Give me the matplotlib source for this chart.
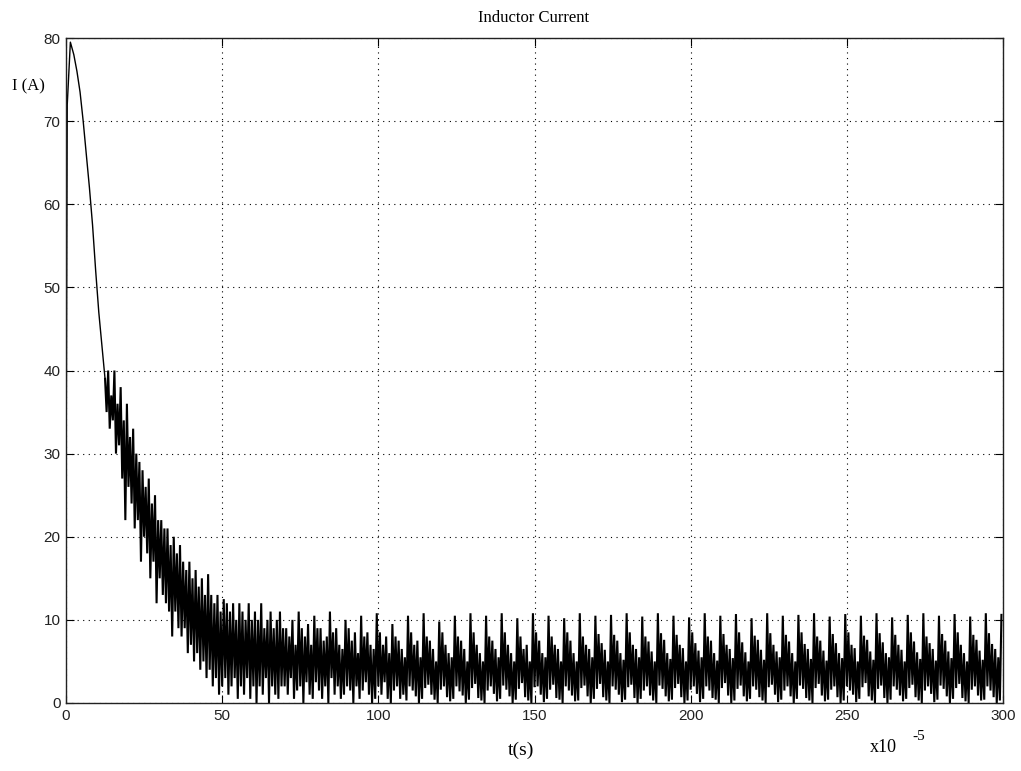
import numpy as np
import matplotlib
matplotlib.use("Agg")
import matplotlib.pyplot as plt

# ---- data (time in units of 1e-5 s, current in A) ----
# start-up transient: single trace
t_head = [0, 0, 0.4, 1.4, 2.5, 3.5, 4.5, 5.5, 6.5, 7.5, 8.5, 9.5, 10.5, 11.5, 12.5]
i_head = [46, 22, 72, 79.5, 78, 76, 73.5, 70, 66, 62, 57.5, 52, 47, 43, 39]

# switching ripple from t = 13 onwards: one trough (at integer t) and one crest (half a unit later)
band_start = 13
i_hi = [
    40, 37, 40, 36, 38, 34, 36, 32, 33, 30,
    29, 28, 26, 27, 24, 25, 22, 22, 21, 21,
    19, 20, 18, 19, 17, 16, 17, 15, 16, 14,
    15, 13, 15.5, 13, 12, 13, 11, 12.5, 12, 11,
    12, 10, 12, 11, 10, 12, 10, 11, 10, 12,
    9, 10, 11, 9, 10, 11, 9,
    9, 8, 10, 7, 11, 9, 8, 9.5, 7, 10.5,
    9, 9, 7.5, 8, 11, 8.5, 9, 7, 6.5, 10,
    9, 7.5, 8.5, 6, 10.5, 8, 8.5, 7, 6.5, 10.8,
    8.5, 7, 8, 6, 9.5, 8, 7.5, 6.5, 5.5, 10.5,
    8.5, 7, 7.5, 5.5, 10.8, 8, 7.5, 6.5, 5, 9.8,
    8.5, 7, 6, 5.5, 10.5, 8, 7.5, 6.5, 5, 10.8,
    8.5, 7, 6, 5, 10.5, 8, 7.5, 6.5, 5.5, 10.8,
    8.5, 7, 6, 5, 10.2, 8, 6.5, 7, 5, 10.8,
    8.5, 7.5, 6, 5.5, 10.5, 8, 7, 6.5, 5, 10.2,
    8.5, 7.5, 6, 5, 10.8, 8, 7, 6.5, 5.5, 10.5,
    8.3, 7.2, 6.4, 5, 10.6, 8.2, 7.5, 6, 5.2, 10.8,
    8.5, 7, 6.5, 5.5, 10.4, 8, 7.4, 6.2, 5, 10.8,
    8.4, 7.6, 6, 5.3, 10.5, 8.2, 7, 6.6, 5, 10.3,
    8.5, 7.2, 6.3, 5.5, 10.8, 8, 7.5, 6, 5.1, 10.5,
    8.3, 7, 6.5, 5.4, 10.7, 8.5, 7.3, 6.1, 5, 10.2,
    8.1, 7.6, 6.4, 5.2, 10.8, 8.4, 7, 6.2, 5.5, 10.5,
    8.2, 7.4, 6, 5, 10.6, 8.5, 7.1, 6.5, 5.3, 10.8,
    8, 7.5, 6.3, 5.1, 10.4, 8.3, 7.2, 6, 5.4, 10.7,
    8.5, 7, 6.6, 5, 10.5, 8.1, 7.6, 6.2, 5.2, 10.8,
    8.4, 7.3, 6, 5.5, 10.3, 8.2, 7, 6.4, 5, 10.6,
    8.5, 7.4, 6.1, 5.3, 10.8, 8, 7.2, 6.5, 5.1, 10.5,
    8.3, 7.5, 6.2, 5.4, 10.7, 8.5, 7, 6, 5, 10.4,
    8.2, 7.6, 6.3, 5.2, 10.8, 8.4, 7.1, 6.5, 5.5, 10.6,
]
i_lo = [
    35, 33, 34, 30, 31, 27, 22, 26, 24, 21,
    22, 17, 20, 18, 15, 17, 12, 15, 13, 12,
    11, 8, 11, 9, 8, 9, 6, 7, 5, 6,
    4, 5, 3, 4, 2, 3, 1, 2, 3, 1,
    2, 3, 0.5, 2, 1, 3, 0.5, 2, 0, 2,
    1, 3, 0, 2, 1, 0.5, 2,
    2, 1, 3, 0.5, 1.5, 2, 0, 2.5, 1, 0.5,
    2.5, 1.5, 0.5, 2, 0, 3, 1, 2, 0.5, 1,
    2, 1.5, 0, 2, 0.5, 1.5, 2.5, 1, 0, 0.5,
    2, 1, 2.5, 0.5, 0, 1.5, 2, 0.5, 1, 0.3,
    2, 1.5, 0.8, 0, 0.5, 1.8, 2.2, 1, 0.4, 0,
    1.6, 2, 0.7, 0.2, 0.5, 2, 1.4, 0.9, 0, 0.4,
    1.8, 2.3, 0.6, 0.3, 0, 1.5, 2, 1.1, 0.2, 0.5,
    2.1, 1.6, 0.8, 0, 0.4, 1.7, 2.4, 0.7, 0.3, 0,
    1.9, 2, 1, 0.1, 0.5, 1.6, 2.2, 0.6, 0.4, 0,
    2, 1.5, 0.9, 0.2, 0.3, 1.8, 2.1, 0.8, 0, 0.5,
    1.7, 2.3, 0.7, 0.3, 0, 2, 1.6, 1, 0.1, 0.4,
    1.9, 2.2, 0.6, 0, 0.5, 1.5, 2, 0.9, 0.3, 0,
    2.1, 1.7, 0.8, 0.2, 0.4, 1.8, 2.3, 0.7, 0, 0.3,
    1.6, 2, 1.1, 0.1, 0.5, 2, 1.5, 0.6, 0.4, 0,
    1.8, 2.4, 0.9, 0, 0.3, 1.7, 2.1, 0.8, 0.2, 0.5,
    2, 1.6, 0.7, 0.3, 0, 1.9, 2.2, 1, 0.1, 0.4,
    1.5, 2, 0.8, 0, 0.5, 2.1, 1.7, 0.6, 0.3, 0,
    1.8, 2.3, 0.9, 0.2, 0.4, 1.6, 2, 0.7, 0, 0.3,
    2, 1.5, 1, 0.1, 0.5, 1.9, 2.4, 0.8, 0.3, 0,
    1.7, 2.1, 0.6, 0, 0.4, 2, 1.6, 0.9, 0.2, 0.5,
    1.8, 2.2, 0.7, 0.3, 0, 1.5, 2, 1.1, 0.1, 0.4,
    2.1, 1.7, 0.8, 0, 0.5, 1.8, 2.3, 0.6, 0.2, 0,
    1.6, 2, 0.9, 0.3, 0.4, 2, 1.5, 0.7, 0, 0.3,
]

x_ticks = [0, 50, 100, 150, 200, 250, 300]
y_ticks = [0, 10, 20, 30, 40, 50, 60, 70, 80]
title = "Inductor Current"
ylabel = "I (A)"
xlabel = "t(s)"

# ---- build trace ----
t_lo = np.arange(band_start, band_start + len(i_lo), dtype=float)
t_hi = t_lo + 0.5
t_band = np.empty(2 * len(t_lo))
i_band = np.empty(2 * len(t_lo))
t_band[0::2], t_band[1::2] = t_lo, t_hi
i_band[0::2], i_band[1::2] = i_lo, i_hi
t_band = np.concatenate([t_head[-1:], t_band])
i_band = np.concatenate([i_head[-1:], i_band])

# ---- figure ----
W, H = 1021, 771
fig = plt.figure(figsize=(W / 100, H / 100), dpi=100)
ax = fig.add_axes([66 / W, 1 - 703 / H, (1003 - 66) / W, (703 - 38) / H])

ax.plot(t_head, i_head, color="black", lw=1.0)
ax.plot(t_band, i_band, color="black", lw=1.5, solid_joinstyle="miter")
ax.set_xlim(0, 300)
ax.set_ylim(0, 80)
ax.set_xticks(x_ticks)
ax.set_yticks(y_ticks)
ax.grid(True, color="black", linestyle=(0, (1, 4)), linewidth=0.8)
ax.tick_params(direction="in", length=6, width=0.8, top=True, right=True,
               labelsize=11, colors="black", pad=4)
for lab in ax.get_xticklabels() + ax.get_yticklabels():
    lab.set_family("Liberation Sans")
    lab.set_color("#222222")
for s in ax.spines.values():
    s.set_linewidth(1.0)
    s.set_color("#222222")

serif = "Liberation Serif"
fig.text(534 / W, 1 - 18 / H, title, family=serif, fontsize=12, ha="center", va="center")
fig.text(12 / W, 1 - 86 / H, ylabel, family=serif, fontsize=12, ha="left", va="center")
fig.text(521 / W, 1 - 750 / H, xlabel, family=serif, fontsize=14, ha="center", va="center")
fig.text(870 / W, 1 - 747 / H, r"x10", family=serif, fontsize=13, ha="left", va="center")
fig.text(912 / W, 1 - 736 / H, r"-5", family=serif, fontsize=11, ha="left", va="center")

fig.savefig("out.png", dpi=100)
